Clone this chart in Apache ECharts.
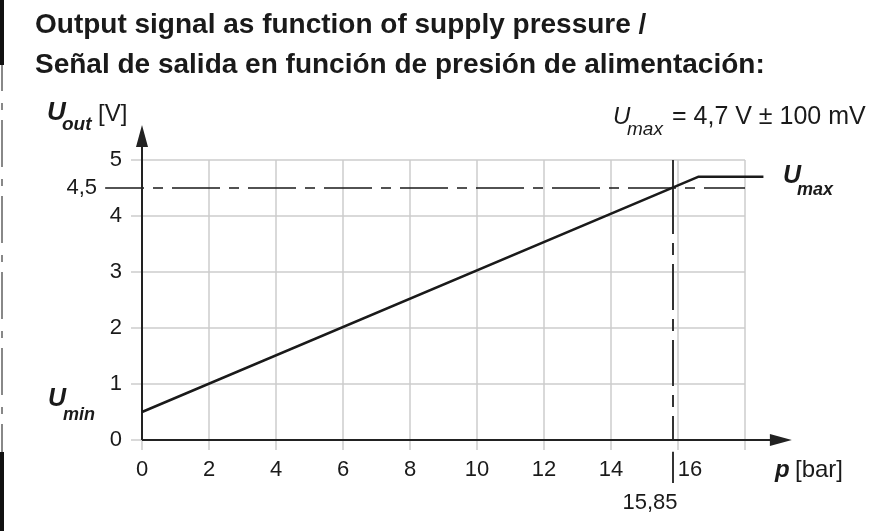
<!DOCTYPE html>
<html>
<head>
<meta charset="utf-8">
<title>Output signal as function of supply pressure</title>
<script src="https://cdn.jsdelivr.net/npm/echarts@6/dist/echarts.min.js"></script>
<style>
    html, body { margin: 0; padding: 0; background: #fff; }
    #chart { width: 890px; height: 531px; }
</style>
</head>
<body>
<div id="chart"></div>
<script>
// values
const pressure = [0, 16.6, 18.55];
const signal = [0.5, 4.7, 4.7];
const xTicks = [0, 2, 4, 6, 8, 10, 12, 14, 16, 18];
const yTicks = [0, 1, 2, 3, 4, 5];
const xLabels = [0, 2, 4, 6, 8, 10, 12, 14, 15.85, 16];
const yLabels = [0, 1, 2, 3, 4, 4.5, 5];
const uRef = 4.5;      // dash-dot level
const pRef = 15.85;    // pressure where the signal reaches 4,5 V
const xEnd = 18;       // grid lines stop here
const yEnd = 5;
const xArrow = 19.07;  // axis arrows
const yArrow = 5.43;
const refTickStart = -1.1;

const FONT = 'Liberation Sans';
const INK = '#1a1a1a';
const GRID = '#cdcdcd';

const fmt = v => String(v).replace('.', ',');

// grid lines, only over 0..18 x 0..5
const gridLines = [];
xTicks.forEach(v => gridLines.push([{ coord: [v, 0] }, { coord: [v, yEnd] }]));
yTicks.forEach(v => gridLines.push([{ coord: [0, v] }, { coord: [xEnd, v] }]));

const chart = echarts.init(document.getElementById('chart'));

const txt = (text, x, y, size, opts) => Object.assign({
    type: 'text',
    style: Object.assign({
        text: text, x: x, y: y, fill: INK,
        fontSize: size, fontFamily: FONT,
        verticalAlign: 'middle'
    }, opts || {}),
    silent: true
});

// the plot area runs from x=-2 and y=-1 so the marks below/left of the axes fit;
// the axes are moved back onto zero with a negative offset
chart.setOption({
    animation: false,
    title: {
        text: 'Output signal as function of supply pressure /\nSeñal de salida en función de presión de alimentación:',
        left: 30,
        top: 0,
        textStyle: { fontSize: 28, fontWeight: 'bold', fontFamily: FONT, color: INK, lineHeight: 40 }
    },
    grid: { left: 75, right: 78, top: 104, bottom: 35, outerBoundsMode: 'none' },
    xAxis: {
        type: 'value',
        min: -2,
        max: 20,
        position: 'bottom',
        offset: -56,
        axisLine: { show: false },
        splitLine: { show: false },
        axisTick: { show: true, customValues: xTicks, length: 10, lineStyle: { color: GRID, width: 1.5 } },
        axisLabel: {
            customValues: xLabels,
            margin: 19,
            color: INK,
            fontSize: 22,
            fontFamily: FONT,
            formatter: v => v === pRef ? '{low|' + fmt(v) + '}' : (v === 16 ? '{shift|16}' : fmt(v)),
            rich: {
                low: { padding: [33, 46, 0, 0], fontSize: 22, fontFamily: FONT, color: INK },
                shift: { padding: [0, 0, 0, 24], fontSize: 22, fontFamily: FONT, color: INK }
            }
        }
    },
    yAxis: {
        type: 'value',
        min: -1,
        max: 6,
        position: 'left',
        offset: -67,
        axisLine: { show: false },
        splitLine: { show: false },
        axisTick: { show: true, customValues: yTicks, length: 11, lineStyle: { color: GRID, width: 1.5 } },
        axisLabel: {
            customValues: yLabels,
            margin: 20,
            color: INK,
            fontSize: 22,
            fontFamily: FONT,
            formatter: v => v === uRef ? '{far|' + fmt(v) + '}' : fmt(v),
            rich: {
                far: { padding: [0, 25, 0, 0], fontSize: 22, fontFamily: FONT, color: INK }
            }
        }
    },
    series: [
        {
            // grid
            type: 'line',
            data: [],
            silent: true,
            z: 1,
            markLine: {
                silent: true,
                symbol: 'none',
                label: { show: false },
                lineStyle: { color: GRID, width: 1.5, type: 'solid' },
                data: gridLines
            }
        },
        {
            // 4,5 V level and 15,85 bar marker
            type: 'line',
            data: [],
            silent: true,
            z: 3,
            markLine: {
                silent: true,
                symbol: 'none',
                label: { show: false },
                data: [
                    [{ coord: [refTickStart, uRef], lineStyle: { color: INK, width: 1.5, type: 'solid' } },
                     { coord: [0, uRef] }],
                    [{ coord: [0, uRef], lineStyle: { color: INK, width: 1.5, type: [48, 9, 10, 9], dashOffset: 46 } },
                     { coord: [xEnd, uRef] }],
                    [{ coord: [pRef, yEnd], lineStyle: { color: '#333', width: 2, type: 'solid' } },
                     { coord: [pRef, uRef] }],
                    [{ coord: [pRef, uRef], lineStyle: { color: '#333', width: 2, type: [46, 9, 12, 9], dashOffset: 0 } },
                     { coord: [pRef, 0] }],
                    [{ coord: [pRef, -0.21], lineStyle: { color: '#333', width: 2, type: 'solid' } },
                     { coord: [pRef, -0.77] }]
                ]
            }
        },
        {
            name: 'U out',
            type: 'line',
            data: pressure.map((p, i) => [p, signal[i]]),
            symbol: 'none',
            z: 5,
            lineStyle: { color: INK, width: 2.5 }
        },
        {
            // axes with arrows
            type: 'line',
            data: [],
            silent: true,
            z: 6,
            markLine: {
                silent: true,
                label: { show: false },
                lineStyle: { color: '#222', width: 2, type: 'solid' },
                data: [
                    [{ coord: [0, 0], symbol: 'none' },
                     { coord: [xArrow, 0], symbol: 'triangle', symbolSize: [12, 22] }],
                    [{ coord: [0, 0], symbol: 'none' },
                     { coord: [0, yArrow], symbol: 'triangle', symbolSize: [12, 22] }]
                ]
            }
        }
    ],
    graphic: [
        // page edge marks
        { type: 'rect', shape: { x: 0, y: 0, width: 4, height: 65 }, style: { fill: '#111' }, silent: true },
        { type: 'line', shape: { x1: 2, y1: 65, x2: 2, y2: 452 }, style: { stroke: '#888', lineWidth: 2, lineDash: [47, 12, 7, 10], lineDashOffset: 21 }, silent: true },
        { type: 'rect', shape: { x: 0, y: 452, width: 4, height: 79 }, style: { fill: '#111' }, silent: true },

        // U_out [V]
        txt('U', 47, 113, 26, { fontWeight: 'bold', fontStyle: 'italic' }),
        txt('out', 62, 125, 19, { fontWeight: 'bold', fontStyle: 'italic' }),
        txt('[V]', 98, 114, 24),

        // U_max = 4,7 V ± 100 mV
        txt('U', 613, 117, 24, { fontStyle: 'italic' }),
        txt('max', 627, 130, 19, { fontStyle: 'italic' }),
        txt('= 4,7 V ± 100 mV', 672, 117, 25),

        // U_max at the end of the curve
        txt('U', 783, 176, 25, { fontWeight: 'bold', fontStyle: 'italic' }),
        txt('max', 797, 190, 18, { fontWeight: 'bold', fontStyle: 'italic' }),

        // U_min
        txt('U', 48, 399, 25, { fontWeight: 'bold', fontStyle: 'italic' }),
        txt('min', 63, 415, 18, { fontWeight: 'bold', fontStyle: 'italic' }),

        // p [bar]
        txt('p', 775, 470, 24, { fontWeight: 'bold', fontStyle: 'italic' }),
        txt('[bar]', 795, 470, 24)
    ]
});
</script>
</body>
</html>
